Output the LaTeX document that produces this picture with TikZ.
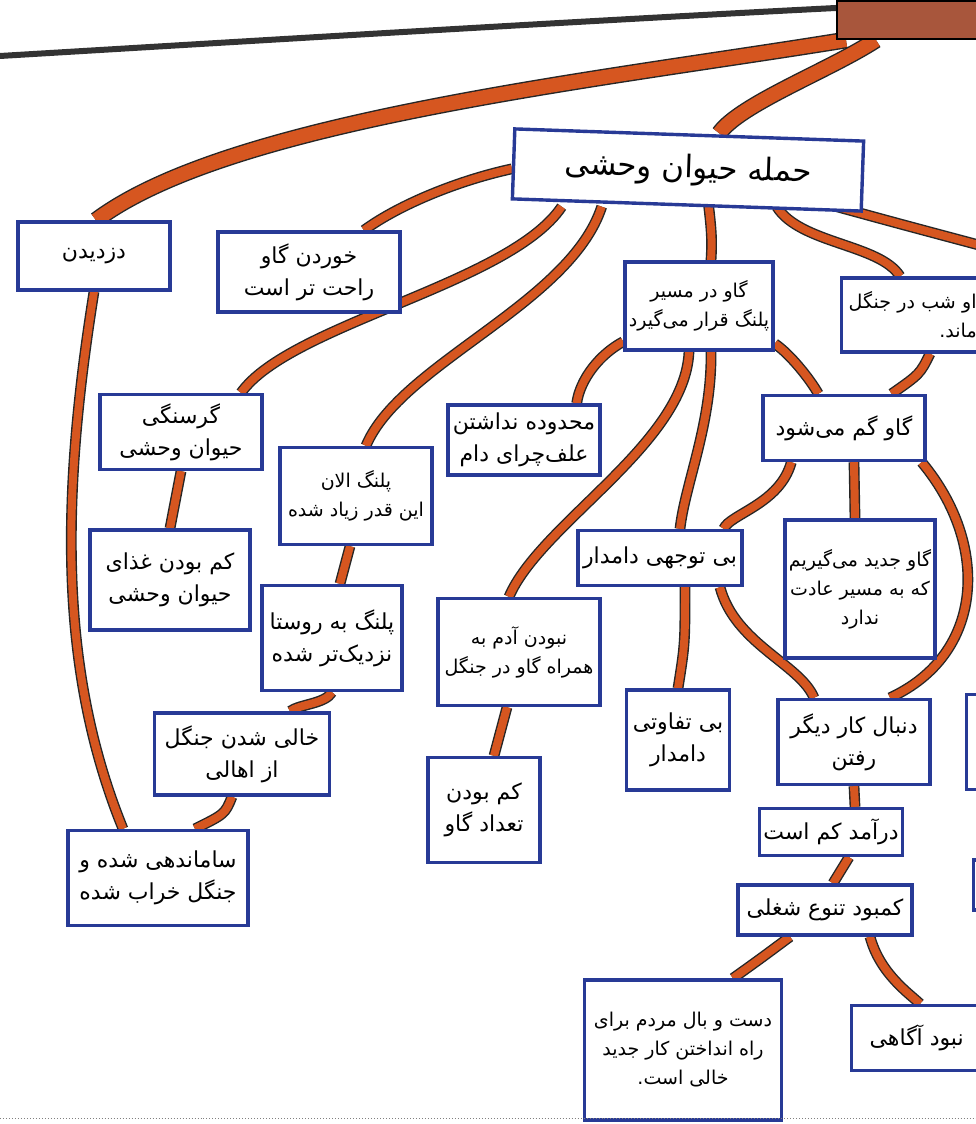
\documentclass[tikz,border=0pt]{standalone}
\usepackage{fontspec}
\newfontfamily\farsi[Script=Arabic]{DejaVu Sans}
\TeXXeTstate=1
\usetikzlibrary{backgrounds}
\definecolor{boxblue}{RGB}{40,58,150}
\definecolor{rootorange}{RGB}{214,86,32}
\definecolor{barkbrown}{RGB}{168,86,60}
\newcommand{\faline}[1]{\mbox{\beginR #1\endR}}
\tikzset{
  box/.style={draw=boxblue, line width=3.4bp, fill=white, align=center, inner sep=4bp,
    font=\farsi\fontsize{22bp}{32bp}\selectfont},
  tight/.style={font=\farsi\fontsize{19bp}{29bp}\selectfont},
  root/.style={draw=black!85, line width=1.4bp, double=rootorange, double distance=8bp},
  bigroot/.style={root, double distance=14bp},
}
\begin{document}
\begin{tikzpicture}
  \useasboundingbox (0bp,0bp) rectangle (976bp,1124bp);
  \clip (0bp,0bp) rectangle (976bp,1124bp);
  \node (trunk) at (836bp,1124bp) [anchor=north west,draw=black,line width=2bp,fill=barkbrown,minimum width=160bp,minimum height=38bp] {};
  \node (attack) at (688bp,954bp) [box,rotate=-2,minimum width=349bp,minimum height=70bp,font=\farsi\fontsize{31bp}{36bp}\selectfont] {\faline{حمله حیوان وحشی}};
  \node (steal) at (94bp,868bp) [box,minimum width=152bp,minimum height=68bp] {\faline{دزدیدن}};
  \node (eatcow) at (309bp,852bp) [box,minimum width=182bp,minimum height=80bp] {\faline{خوردن گاو}\\\faline{راحت تر است}};
  \node (cowpath) at (699bp,818bp) [box,tight,minimum width=142bp,minimum height=88bp] {\faline{گاو در مسیر}\\\faline{پلنگ قرار می‌گیرد}};
  \node (cownight) at (840bp,809bp) [box,tight,anchor=west,minimum height=74bp,text width=130bp,align=right,inner sep=5bp] {\faline{او شب در جنگل}\\\faline{ماند.}};
  \node (hunger) at (181bp,692bp) [box,minimum width=162bp,minimum height=75bp] {\faline{گرسنگی}\\\faline{حیوان وحشی}};
  \node (leopardnow) at (356bp,628bp) [box,tight,minimum width=152bp,minimum height=97bp] {\faline{پلنگ الان}\\\faline{این قدر زیاد شده}};
  \node (pasture) at (524bp,684bp) [box,minimum width=152bp,minimum height=70bp] {\faline{محدوده نداشتن}\\\faline{علف‌چرای دام}};
  \node (cowlost) at (844bp,696bp) [box,minimum width=162bp,minimum height=65bp] {\faline{گاو گم می‌شود}};
  \node (lessfood) at (170bp,544bp) [box,minimum width=160bp,minimum height=100bp] {\faline{کم بودن غذای}\\\faline{حیوان وحشی}};
  \node (leopardnear) at (332bp,486bp) [box,minimum width=140bp,minimum height=105bp] {\faline{پلنگ به روستا}\\\faline{نزدیک‌تر شده}};
  \node (neglect) at (660bp,566bp) [box,minimum width=164bp,minimum height=55bp] {\faline{بی توجهی دامدار}};
  \node (newcow) at (860bp,535bp) [box,tight,minimum width=150bp,minimum height=138bp] {\faline{گاو جدید می‌گیریم}\\\faline{که به مسیر عادت}\\\faline{ندارد}};
  \node (noperson) at (519bp,472bp) [box,tight,minimum width=162bp,minimum height=107bp] {\faline{نبودن آدم به}\\\faline{همراه گاو در جنگل}};
  \node (indiff) at (678bp,384bp) [box,minimum width=103bp,minimum height=100bp] {\faline{بی تفاوتی}\\\faline{دامدار}};
  \node (otherjob) at (854bp,382bp) [box,minimum width=152bp,minimum height=85bp] {\faline{دنبال کار دیگر}\\\faline{رفتن}};
  \node (cutA) at (965bp,382bp) [box,anchor=west,minimum width=60bp,minimum height=95bp] {};
  \node (emptyforest) at (242bp,370bp) [box,minimum width=175bp,minimum height=82bp] {\faline{خالی شدن جنگل}\\\faline{از اهالی}};
  \node (fewcows) at (484bp,314bp) [box,minimum width=112bp,minimum height=105bp] {\faline{کم بودن}\\\faline{تعداد گاو}};
  \node (income) at (831bp,292bp) [box,minimum width=138bp,minimum height=47bp] {\faline{درآمد کم است}};
  \node (cutB) at (972bp,239bp) [box,anchor=west,minimum width=40bp,minimum height=50bp] {};
  \node (organized) at (158bp,246bp) [box,minimum width=180bp,minimum height=95bp] {\faline{ساماندهی شده و}\\\faline{جنگل خراب شده}};
  \node (jobvariety) at (825bp,214bp) [box,minimum width=174bp,minimum height=50bp] {\faline{کمبود تنوع شغلی}};
  \node (nomoney) at (683bp,74bp) [box,tight,minimum width=197bp,minimum height=140bp] {\faline{دست و بال مردم برای}\\\faline{راه انداختن کار جدید}\\\faline{خالی است.}};
  \node (noaware) at (850bp,86bp) [box,anchor=west,minimum width=130bp,minimum height=65bp] {\faline{نبود آگاهی}};
  \coordinate (offR) at (990bp,876bp);
  \draw [gray,dotted,line width=1bp] (0bp,5bp) -- (976bp,5bp);
  \begin{scope}[on background layer]
    \clip (0bp,0bp) rectangle (976bp,1124bp);
    \fill [white] (0bp,0bp) rectangle (976bp,1124bp);
    \draw [black!80,line width=6bp,line cap=round] (0bp,1068bp) .. controls (300bp,1086bp) and (600bp,1104bp) .. ([yshift=-8bp]trunk.north west);
    % roots from the trunk
    \draw [bigroot] ([xshift=10bp]trunk.south west) .. controls (600bp,1044bp) and (230bp,1004bp) .. ([xshift=2bp]steal.north);
    \draw [bigroot] ([xshift=40bp]trunk.south west) .. controls (830bp,1054bp) and (740bp,1020bp) .. ([xshift=30bp]attack.north);
    % roots under the main box
    \draw [root] ([yshift=-5bp]attack.west) .. controls (460bp,944bp) and (400bp,920bp) .. ([xshift=55bp]eatcow.north);
    \draw [root] ([xshift=-125bp]attack.south) .. controls (510bp,840bp) and (290bp,800bp) .. ([xshift=60bp]hunger.north);
    \draw [root] ([xshift=-85bp]attack.south) .. controls (570bp,820bp) and (400bp,760bp) .. ([xshift=10bp]leopardnow.north);
    \draw [root] ([xshift=22bp]attack.south) .. controls (712bp,890bp) and (712bp,880bp) .. ([xshift=12bp]cowpath.north);
    \draw [root] ([xshift=90bp]attack.south) .. controls (800bp,880bp) and (880bp,880bp) .. ([xshift=60bp]cownight.north west);
    \draw [root] ([xshift=150bp]attack.south) .. controls (900bp,900bp) .. (offR);
    \draw [root] ([yshift=10bp]cowpath.south west) .. controls (600bp,770bp) and (580bp,745bp) .. ([xshift=-25bp]pasture.north east);
    \draw [root] ([xshift=-10bp]cowpath.south) .. controls (685bp,680bp) and (540bp,600bp) .. ([xshift=-10bp]noperson.north);
    \draw [root] ([xshift=12bp]cowpath.south) .. controls (712bp,700bp) and (685bp,640bp) .. ([xshift=20bp]neglect.north);
    \draw [root] ([yshift=8bp]cowpath.south east) .. controls (790bp,770bp) and (810bp,745bp) .. ([xshift=57bp]cowlost.north west);
    \draw [root] ([xshift=90bp]cownight.south west) .. controls (920bp,750bp) .. ([xshift=-35bp]cowlost.north east);
    \draw [root] ([xshift=30bp]cowlost.south west) .. controls (780bp,620bp) and (730bp,610bp) .. ([xshift=-20bp]neglect.north east);
    \draw [root] ([xshift=10bp]cowlost.south) -- ([xshift=-5bp]newcow.north);
    \draw [root] ([xshift=-5bp]cowlost.south east) .. controls (990bp,580bp) and (985bp,470bp) .. ([xshift=36bp]otherjob.north);
    \draw [root] ([xshift=25bp]neglect.south) .. controls (685bp,480bp) .. (indiff.north);
    \draw [root] ([xshift=60bp]neglect.south) .. controls (735bp,480bp) and (800bp,460bp) .. ([xshift=-40bp]otherjob.north);
    \draw [root] ([xshift=-12bp]noperson.south) -- ([xshift=10bp]fewcows.north);
    \draw [root] ([xshift=-6bp]leopardnow.south) -- ([xshift=8bp]leopardnear.north);
    \draw [root] (leopardnear.south) .. controls (325bp,420bp) and (300bp,420bp) .. ([xshift=48bp]emptyforest.north);
    \draw [root] ([xshift=-10bp]emptyforest.south) .. controls (225bp,310bp) .. ([xshift=37bp]organized.north);
    \draw [root] (steal.south) .. controls (60bp,620bp) and (60bp,450bp) .. ([xshift=-35bp]organized.north);
    \draw [root] (hunger.south) -- (lessfood.north);
    \draw [root] (otherjob.south) -- ([xshift=24bp]income.north);
    \draw [root] ([xshift=18bp]income.south) -- ([xshift=8bp]jobvariety.north);
    \draw [root] ([xshift=-35bp]jobvariety.south) .. controls (760bp,165bp) .. ([xshift=50bp]nomoney.north);
    \draw [root] ([xshift=45bp]jobvariety.south) .. controls (880bp,150bp) and (910bp,130bp) .. ([xshift=70bp]noaware.north west);
  \end{scope}
\end{tikzpicture}
\end{document}
